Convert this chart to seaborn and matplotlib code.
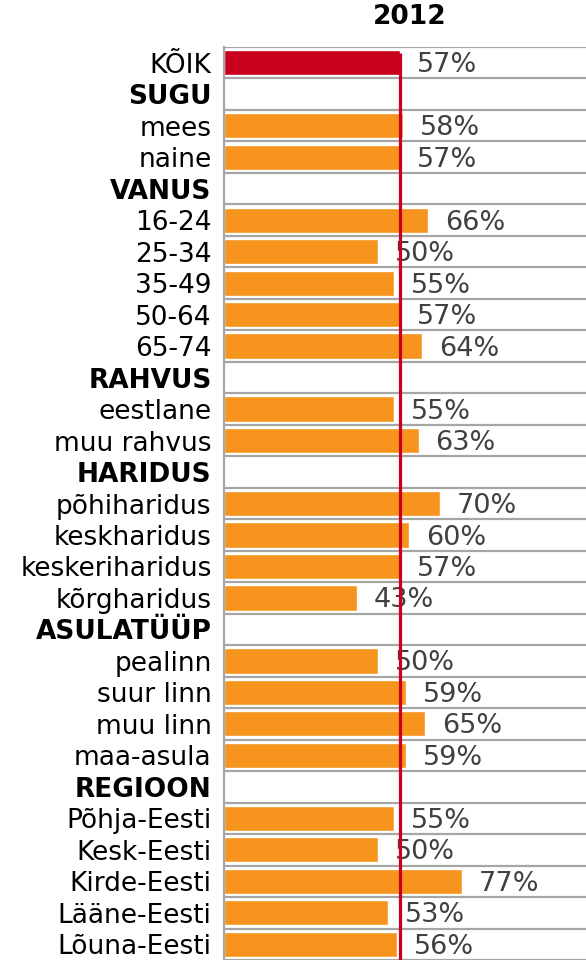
import seaborn as sns
import matplotlib.pyplot as plt
import numpy as np
import pandas as pd

# rows from top to bottom; None marks a group header
categories = ['KÕIK', 'SUGU', 'mees', 'naine', 'VANUS', '16-24', '25-34', '35-49',
              '50-64', '65-74', 'RAHVUS', 'eestlane', 'muu rahvus', 'HARIDUS',
              'põhiharidus', 'keskharidus', 'keskeriharidus', 'kõrgharidus',
              'ASULATÜÜP', 'pealinn', 'suur linn', 'muu linn', 'maa-asula',
              'REGIOON', 'Põhja-Eesti', 'Kesk-Eesti', 'Kirde-Eesti',
              'Lääne-Eesti', 'Lõuna-Eesti']
values = [57, None, 58, 57, None, 66, 50, 55, 57, 64, None, 55, 63, None,
          70, 60, 57, 43, None, 50, 59, 65, 59, None, 55, 50, 77, 53, 56]
headers = ['SUGU', 'VANUS', 'RAHVUS', 'HARIDUS', 'ASULATÜÜP', 'REGIOON']
total_value = 57
title = '2012'

df = pd.DataFrame({'cat': categories, 'val': values})
df['val'] = df['val'].astype(float)
palette = {c: ('#C8001E' if c == 'KÕIK' else '#F7941D') for c in categories}

sns.set_style('white')
plt.rcParams['font.family'] = ['DejaVu Sans']

fig = plt.figure(figsize=(5.86, 9.6), dpi=100)
ax = fig.add_axes([224 / 586, 0, 1 - 224 / 586, 1 - 47 / 960])

sns.barplot(data=df, x='val', y='cat', hue='cat', palette=palette, order=categories,
            orient='h', width=0.8, legend=False, saturation=1, ax=ax)

ax.set_xlim(0, 117.2)
ax.set_ylim(len(categories) - 0.5, -0.5)

# row separators
for b in np.arange(-0.5, len(categories), 1.0):
    ax.axhline(b, color='#A6A6A6', lw=1.6, zorder=0)

# average line
ax.plot([total_value, total_value], [-0.3, len(categories) - 0.5],
        color='#C8001E', lw=2.3, zorder=4, solid_capstyle='butt')

for i, v in enumerate(values):
    if v is not None:
        ax.text(v + 5.5, i + 0.08, f'{v}%', va='center', ha='left',
                fontsize=19.5, color='#404040', zorder=3)

ax.set_xticks([])
ax.set_xlabel('')
ax.set_ylabel('')
ax.tick_params(axis='y', length=0, pad=9, labelsize=19)
for lbl in ax.get_yticklabels():
    lbl.set_color('black')
    if lbl.get_text() in headers:
        lbl.set_fontweight('bold')

for s in ['top', 'right', 'bottom']:
    ax.spines[s].set_visible(False)
ax.spines['left'].set_color('#A6A6A6')
ax.spines['left'].set_linewidth(1.6)

fig.text(410 / 586, 1 - 17 / 960, title, ha='center', va='center',
         fontsize=19, fontweight='bold', color='black')

fig.savefig('out.png', dpi=100)
